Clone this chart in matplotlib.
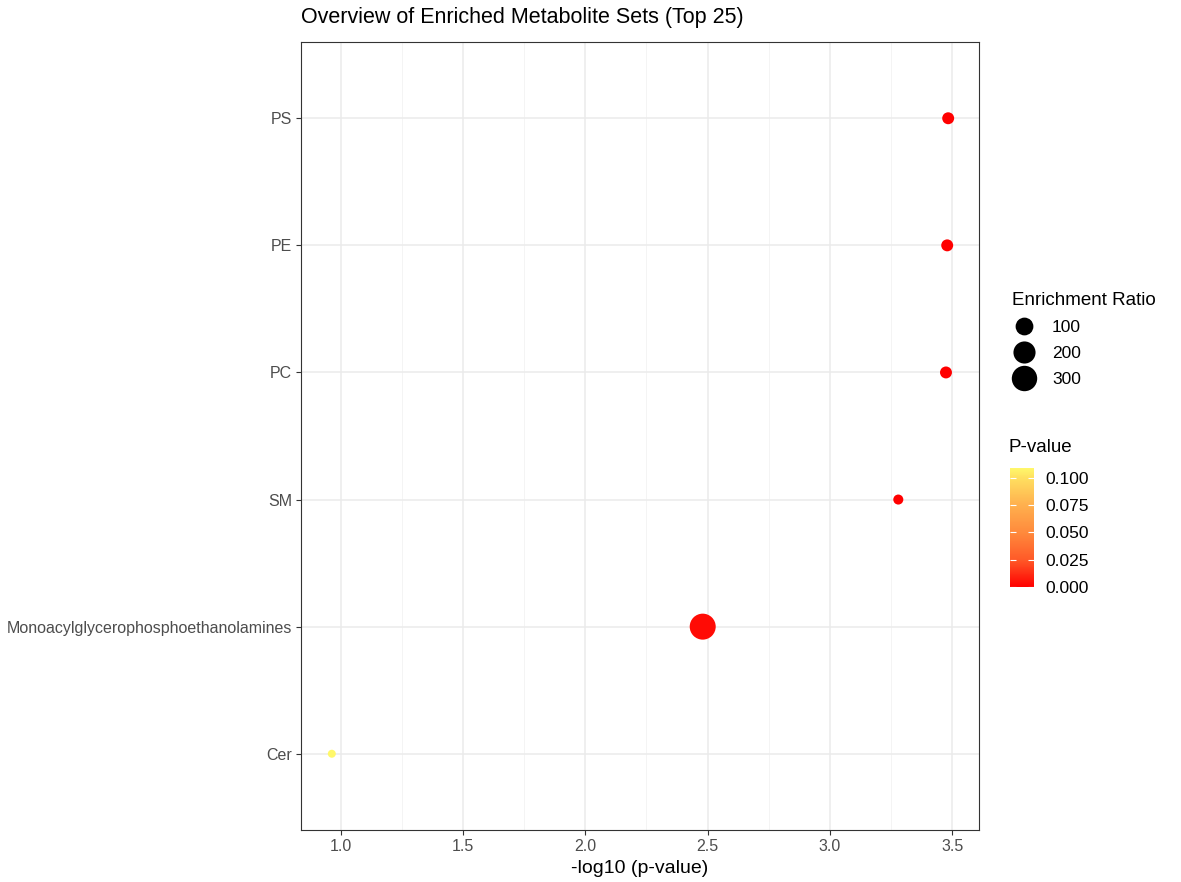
import numpy as np
import matplotlib
matplotlib.use("Agg")
import matplotlib.pyplot as plt
from matplotlib.colors import LinearSegmentedColormap, Normalize
from matplotlib.lines import Line2D

plt.rcParams['font.family'] = ['Liberation Sans', 'DejaVu Sans']

# ---- data ----
categories = ["Cer", "Monoacylglycerophosphoethanolamines", "SM", "PC", "PE", "PS"]
neglog10_p = [0.963, 2.48, 3.28, 3.475, 3.48, 3.484]
enrichment_ratio = [8, 320, 12, 23, 23, 23]
size_breaks = [100, 200, 300]
pval_ticks = [0.0, 0.025, 0.05, 0.075, 0.1]
title = "Overview of Enriched Metabolite Sets (Top 25)"
xlabel = "-log10 (p-value)"
xticks = [1.0, 1.5, 2.0, 2.5, 3.0, 3.5]

pvals = [10 ** (-v) for v in neglog10_p]

W, H = 1181, 882
DPI = 100
fig = plt.figure(figsize=(W / DPI, H / DPI), dpi=DPI)

L, R, T, B = 301, 979, 42, 830
ax = fig.add_axes([L / W, 1 - B / H, (R - L) / W, (B - T) / H])

cmap = LinearSegmentedColormap.from_list(
    "pv", [(0, "#FF0000"), (0.23, "#FF5A28"), (0.46, "#FF8A3C"),
           (0.69, "#FFB04E"), (0.92, "#FFE060"), (1.0, "#FFF86A")])
norm = Normalize(vmin=min(pvals), vmax=max(pvals))

er_min, er_max = min(enrichment_ratio), max(enrichment_ratio)


def diam_pt(er):
    frac = np.clip((np.asarray(er, float) - er_min) / (er_max - er_min), 0, None)
    dpx = 8 + 18 * np.sqrt(frac)
    return dpx * 72 / DPI


ypos = np.arange(1, len(categories) + 1)
ax.scatter(neglog10_p, ypos, s=diam_pt(enrichment_ratio) ** 2,
           c=pvals, cmap=cmap, norm=norm, linewidths=0, zorder=3)

# axes styling (theme_bw-like)
xr = max(neglog10_p) - min(neglog10_p)
ax.set_xlim(min(neglog10_p) - 0.05 * xr, max(neglog10_p) + 0.05 * xr)
ax.set_ylim(0.4, len(categories) + 0.6)
ax.set_yticks(ypos)
ax.set_yticklabels(categories)
ax.set_xticks(xticks)
ax.set_xticklabels([f"{v:.1f}" for v in xticks])
ax.set_xticks([1.25, 1.75, 2.25, 2.75, 3.25], minor=True)
ax.grid(True, which='major', color='#EBEBEB', linewidth=1.1, zorder=0)
ax.grid(True, which='minor', axis='x', color='#F2F2F2', linewidth=0.6, zorder=0)
ax.set_axisbelow(True)
for sp in ax.spines.values():
    sp.set_color('#333333')
    sp.set_linewidth(0.8)
ax.tick_params(which='major', length=3.5, width=0.8, color='#333333',
               labelcolor='#4D4D4D', labelsize=11.5, pad=3)
ax.tick_params(which='minor', length=0)
ax.set_xlabel(xlabel, fontsize=14, color='black', labelpad=4)
ax.set_title(title, loc='left', fontsize=15.5, pad=14, color='black')

# size legend
handles = [Line2D([], [], marker='o', linestyle='none', color='black',
                  markersize=float(diam_pt(b)), markeredgewidth=0)
           for b in size_breaks]
leg = fig.legend(handles, [str(b) for b in size_breaks], title="Enrichment Ratio",
                 loc='upper left', bbox_to_anchor=(1000 / W, 1 - 280 / H),
                 frameon=False, fontsize=12.5, title_fontsize=13.5,
                 handletextpad=0.9, labelspacing=0.62, borderpad=0.2,
                 handlelength=1.4)
leg._legend_box.align = "left"

# colorbar legend
cax = fig.add_axes([1010 / W, 1 - 587 / H, 24 / W, 119 / H])
sm = plt.cm.ScalarMappable(cmap=cmap, norm=Normalize(vmin=0, vmax=max(pvals)))
cb = fig.colorbar(sm, cax=cax, ticks=pval_ticks)
cb.outline.set_visible(False)
cb.ax.set_yticklabels([f"{t:.3f}" for t in pval_ticks])
cax.tick_params(left=True, right=True, direction='in', color='white',
                length=4, width=0.8, labelsize=12.5, labelcolor='black', pad=8)
fig.text(1008 / W, 1 - 448 / H, "P-value", fontsize=13.5, va='center', ha='left')

fig.savefig("out.png", dpi=DPI)
